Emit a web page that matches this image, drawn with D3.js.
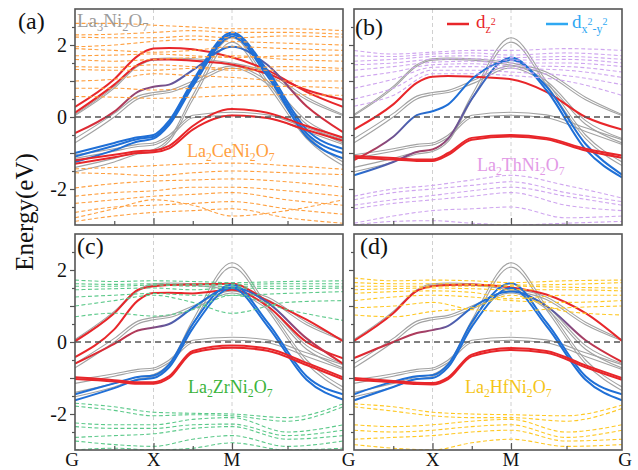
<!DOCTYPE html>
<html lang="en">
<head>
<meta charset="UTF-8">
<title>Band structures</title>
<script src="https://d3js.org/d3.v7.min.js"></script>
<style>
  html, body { margin: 0; padding: 0; background: #fff; }
  svg text { font-family: "Liberation Serif", "Times New Roman", Times, "DejaVu Serif", serif !important; }
</style>
</head>
<body>
<script>
const width = 638, height = 470;
const serif = "'Liberation Serif', 'Times New Roman', Times, 'DejaVu Serif', serif";

// k-path G-X-M-G, |GX| = |XM| = 1, |MG| = sqrt(2)
const kPts = [0, 0.5, 0.8, 1, 1.2, 1.5, 2, 2.45, 2.95, 3.414];
const kDash = [0, 0.5, 1, 1.5, 2, 2.7, 3.414];
const kSym = [0, 1, 2, 3.414];
const kLabels = ["G", "X", "M", "G"];
const kMinor = [0.5, 1.5, 2.707];
const yTicks = [-2, 0, 2];

// La3Ni2O7 reference bands (grey, same in every panel)
const greyBands = [
  [0.07, 0.85, 1.45, 1.62, 1.64, 1.62, 1.5, 1.25, 0.55, 0.07],
  [0.04, 0.8, 1.41, 1.58, 1.6, 1.58, 1.44, 1.18, 0.48, 0.04],
  [-0.6, 0.1, 0.58, 0.68, 0.74, 1.0, 1.42, 1.0, -0.1, -0.6],
  [-0.72, 0.0, 0.5, 0.62, 0.68, 0.92, 1.36, 0.92, -0.2, -0.72],
  [-1.05, -0.88, -0.76, -0.72, -0.5, 0.05, 0.13, 0.06, -0.3, -0.63],
  [-1.15, -0.95, -0.82, -0.78, -0.57, -0.02, 0.05, -0.02, -0.4, -0.76],
  [-1.4, -1.15, -0.97, -0.9, -0.6, 0.6, 2.2, 1.0, -0.5, -1.25],
  [-1.52, -1.25, -1.03, -0.96, -0.68, 0.48, 2.08, 0.9, -0.6, -1.35]
];

// La2CeNi2O7
const ceBands = [
  [0.28, 1.05, 1.7, 1.9, 1.92, 1.88, 1.66, 1.3, 0.7, 0.28],
  [0.12, 0.9, 1.45, 1.6, 1.6, 1.56, 1.46, 1.2, 0.75, 0.48],
  [-0.45, 0.15, 0.7, 0.84, 0.9, 1.3, 1.95, 1.45, 0.3, -0.42],
  [-1.0, -0.72, -0.56, -0.5, -0.1, 1.0, 2.35, 1.3, -0.35, -0.88],
  [-1.1, -0.8, -0.61, -0.55, -0.16, 0.93, 2.29, 1.22, -0.45, -1.0],
  [-1.25, -0.92, -0.68, -0.6, -0.22, 0.85, 2.23, 1.14, -0.55, -1.15],
  [-1.2, -1.05, -0.95, -0.93, -0.8, -0.25, 0.22, 0.12, -0.25, -0.57],
  [-1.3, -1.12, -1.0, -0.98, -0.87, -0.35, 0.04, -0.03, -0.36, -0.66]
];
// dz2 weight (1 = dz2, 0 = dx2-y2)
const ceWeights = [1, 1, [1, 0.8, 0.55, 0.5, 0.4, 0.2, 0, 0.3, 0.8, 1], 0, 0, 0, 1, 1];

// La2ThNi2O7
const thBands = [
  [-0.35, 0.35, 0.95, 1.12, 1.14, 1.12, 1.05, 0.7, 0.0, -0.35],
  [-1.2, -0.55, 0.05, 0.16, 0.35, 1.05, 1.58, 0.85, -0.75, -1.6],
  [-1.62, -1.25, -0.97, -0.9, -0.6, 0.5, 1.65, 0.75, -0.9, -1.68],
  [-1.08, -1.14, -1.18, -1.18, -1.0, -0.58, -0.5, -0.58, -0.88, -1.07],
  [-1.13, -1.18, -1.22, -1.22, -1.05, -0.63, -0.54, -0.62, -0.93, -1.13]
];
const thWeights = [1, [1, 0.4, 0.1, 0, 0, 0, 0, 0, 0, 0], [0, 0.3, 0.6, 0.7, 0.5, 0.2, 0, 0, 0, 0], 1, 1];

// La2ZrNi2O7
const zrBands = [
  [0.02, 0.8, 1.45, 1.55, 1.58, 1.6, 1.62, 1.15, 0.62, 0.02],
  [-0.42, 0.35, 1.15, 1.36, 1.37, 1.35, 1.45, 1.0, 0.0, -0.45],
  [-0.6, -0.05, 0.32, 0.4, 0.5, 0.95, 1.52, 1.1, 0.1, -0.6],
  [-1.45, -1.15, -0.97, -0.93, -0.62, 0.5, 1.6, 0.55, -0.95, -1.45],
  [-1.62, -1.28, -1.05, -1.0, -0.7, 0.38, 1.5, 0.45, -1.05, -1.6],
  [-0.98, -1.06, -1.12, -1.12, -0.95, -0.25, -0.1, -0.18, -0.58, -0.98],
  [-1.03, -1.1, -1.16, -1.16, -1.0, -0.3, -0.16, -0.24, -0.64, -1.04]
];
const zrWeights = [1, 1, [1, 0.9, 0.7, 0.5, 0.3, 0, 0, 0.2, 0.7, 1], 0, 0, 1, 1];

// La2HfNi2O7
const hfBands = [
  [0.03, 0.8, 1.42, 1.55, 1.58, 1.6, 1.52, 1.32, 0.8, 0.03],
  [-0.45, 0.0, 0.25, 0.33, 0.45, 0.95, 1.4, 1.0, 0.05, -0.55],
  [-1.45, -1.1, -0.95, -0.92, -0.62, 0.55, 1.63, 0.55, -0.95, -1.45],
  [-1.62, -1.25, -1.03, -1.0, -0.7, 0.42, 1.5, 0.45, -1.05, -1.62],
  [-1.0, -1.08, -1.13, -1.14, -0.98, -0.35, -0.17, -0.25, -0.65, -1.0],
  [-1.05, -1.12, -1.17, -1.18, -1.03, -0.4, -0.22, -0.3, -0.7, -1.05]
];
const hfWeights = [1, [1, 0.8, 0.7, 0.6, 0.3, 0, 0, 0.2, 0.7, 1], 0, 0, 1, 1];

// A-site derived bands (dashed), sampled on kDash
const ceDash = [
  [2.6, 2.6, 2.55, 2.5, 2.45, 2.45, 2.4],
  [2.28, 2.3, 2.35, 2.4, 2.35, 2.35, 2.3],
  [2.22, 2.2, 2.2, 2.25, 2.2, 2.25, 2.22],
  [1.95, 2.0, 2.1, 2.15, 2.1, 2.05, 2.0],
  [1.9, 1.85, 1.8, 1.85, 1.95, 1.9, 1.85],
  [1.7, 1.72, 1.75, 1.7, 1.65, 1.7, 1.72],
  [1.6, 1.55, 1.6, 1.65, 1.7, 1.6, 1.55],
  [1.4, 1.38, 1.45, 1.4, 1.35, 1.4, 1.35],
  [1.32, 1.3, 1.3, 1.35, 1.3, 1.3, 1.3],
  [1.0, 1.05, 1.2, 1.15, 1.1, 1.0, 1.0],
  [0.8, 0.8, 0.75, 0.8, 0.85, 0.85, 0.8],
  [0.57, 0.55, 0.52, 0.55, 0.6, 0.62, 0.6],
  [-1.44, -1.4, -1.35, -1.3, -1.28, -1.35, -1.45],
  [-1.55, -1.58, -1.63, -1.55, -1.5, -1.55, -1.6],
  [-1.97, -1.85, -1.78, -1.75, -1.72, -1.8, -1.95],
  [-2.2, -2.1, -2.05, -1.95, -1.95, -2.05, -2.2],
  [-2.4, -2.3, -2.2, -2.15, -2.1, -2.3, -2.45],
  [-2.65, -2.5, -2.45, -2.4, -2.35, -2.55, -2.7],
  [-2.9, -2.75, -2.65, -2.6, -2.55, -2.8, -2.95],
  [-2.8, -2.55, -2.3, -2.45, -2.75, -2.6, -2.3]
];
const thDash = [
  [1.85, 1.75, 1.8, 1.85, 1.85, 1.9, 1.85],
  [1.7, 1.68, 1.75, 1.78, 1.72, 1.78, 1.7],
  [1.55, 1.6, 1.68, 1.7, 1.65, 1.68, 1.6],
  [1.45, 1.5, 1.6, 1.62, 1.58, 1.6, 1.5],
  [1.3, 1.4, 1.52, 1.55, 1.5, 1.5, 1.4],
  [1.1, 1.25, 1.45, 1.48, 1.42, 1.4, 1.25],
  [0.8, 1.05, 1.38, 1.4, 1.35, 1.3, 1.1],
  [0.5, 0.8, 1.3, 1.3, 1.25, 1.15, 0.9],
  [0.3, 0.6, 1.2, 1.2, 1.15, 1.0, 0.6],
  [-2.2, -2.0, -1.9, -1.75, -1.62, -1.9, -2.25],
  [-2.3, -2.1, -2.0, -1.9, -1.8, -2.1, -2.35],
  [-2.45, -2.3, -2.18, -2.05, -1.95, -2.2, -2.45],
  [-2.55, -2.4, -2.3, -2.2, -2.1, -2.45, -2.6],
  [-2.95, -2.75, -2.6, -2.55, -2.5, -2.8, -2.75],
  [-3.0, -2.9, -2.88, -2.95, -3.0, -2.95, -2.9]
];
const zrDash = [
  [1.72, 1.68, 1.7, 1.68, 1.65, 1.68, 1.7],
  [1.62, 1.6, 1.62, 1.6, 1.6, 1.62, 1.62],
  [1.55, 1.55, 1.58, 1.55, 1.55, 1.55, 1.55],
  [1.45, 1.48, 1.5, 1.45, 1.5, 1.48, 1.5],
  [1.25, 1.3, 1.35, 1.3, 1.3, 1.35, 1.4],
  [1.0, 1.15, 1.3, 1.1, 0.8, 1.1, 1.15],
  [0.7, 0.8, 0.72, 0.9, 1.3, 0.9, 0.6],
  [-1.7, -1.8, -1.95, -1.98, -2.0, -2.1, -1.72],
  [-1.78, -1.9, -2.05, -2.02, -2.05, -2.2, -1.8],
  [-2.25, -2.3, -2.3, -2.15, -2.1, -2.5, -2.3],
  [-2.35, -2.4, -2.4, -2.3, -2.28, -2.6, -2.45],
  [-2.65, -2.6, -2.55, -2.4, -2.35, -2.7, -2.6],
  [-2.75, -2.85, -2.9, -2.7, -2.6, -2.9, -2.75],
  [-3.0, -2.95, -3.0, -2.95, -2.8, -3.0, -2.95]
];
const hfDash = [
  [1.78, 1.7, 1.72, 1.7, 1.65, 1.7, 1.72],
  [1.65, 1.62, 1.62, 1.6, 1.58, 1.6, 1.65],
  [1.55, 1.55, 1.55, 1.55, 1.55, 1.52, 1.5],
  [1.45, 1.48, 1.5, 1.48, 1.45, 1.45, 1.42],
  [1.35, 1.4, 1.42, 1.38, 1.2, 1.3, 1.3],
  [1.15, 1.25, 1.3, 1.25, 1.15, 1.1, 1.15],
  [0.95, 1.0, 1.1, 0.9, 0.85, 0.95, 1.0],
  [0.75, 0.7, 0.85, 0.95, 1.3, 0.85, 0.75],
  [-1.72, -1.8, -1.95, -2.0, -2.02, -2.05, -1.75],
  [-1.8, -1.92, -2.05, -2.1, -2.1, -2.2, -1.85],
  [-2.3, -2.35, -2.3, -2.2, -2.15, -2.5, -2.3],
  [-2.45, -2.5, -2.45, -2.35, -2.3, -2.65, -2.45],
  [-2.7, -2.65, -2.6, -2.5, -2.45, -2.75, -2.7],
  [-2.85, -2.95, -3.0, -2.8, -2.7, -2.9, -2.85]
];

const red = "#e8262a", blue = "#1f6fd6";
const mix = d3.interpolateRgb(blue, red);

const pw = 268, ph = 216;
const panels = [
  { tag: "(a)", left: 75, top: 9, bands: ceBands, weights: ceWeights, dash: ceDash, dashColor: "#ffa040", col: 0, row: 0 },
  { tag: "(b)", left: 354, top: 9, bands: thBands, weights: thWeights, dash: thDash, dashColor: "#cfa6ef", col: 1, row: 0 },
  { tag: "(c)", left: 75, top: 234, bands: zrBands, weights: zrWeights, dash: zrDash, dashColor: "#5cc98a", col: 0, row: 1 },
  { tag: "(d)", left: 354, top: 234, bands: hfBands, weights: hfWeights, dash: hfDash, dashColor: "#ffc824", col: 1, row: 1 }
];

const svg = d3.select("body").append("svg")
  .attr("width", width)
  .attr("height", height)
  .attr("font-family", serif);
const defs = svg.append("defs");

const x = d3.scaleLinear().domain([0, 3.414]).range([0, pw]);
const y = d3.scaleLinear().domain([-3, 3]).range([ph, 0]);

const line = d3.line()
  .x((d, i) => x(kPts[i]))
  .y((d) => y(d))
  .curve(d3.curveMonotoneX);
const dashLine = d3.line()
  .x((d, i) => x(kDash[i]))
  .y((d) => y(d))
  .curve(d3.curveMonotoneX);

panels.forEach((p, pi) => {
  const g = svg.append("g").attr("transform", `translate(${p.left},${p.top})`);
  defs.append("clipPath").attr("id", "clip" + pi)
    .append("rect").attr("width", pw).attr("height", ph);
  const plot = g.append("g").attr("clip-path", `url(#clip${pi})`);

  // high-symmetry guides
  plot.selectAll(".guide").data(kSym.slice(1, 3)).join("line")
    .attr("x1", (d) => x(d)).attr("x2", (d) => x(d))
    .attr("y1", 0).attr("y2", ph)
    .attr("stroke", "#c4c4c4").attr("stroke-width", 0.8)
    .attr("stroke-dasharray", "4,3");

  // La3Ni2O7
  plot.selectAll(".grey").data(greyBands).join("path")
    .attr("d", line)
    .attr("fill", "none")
    .attr("stroke", "#a2a2a2")
    .attr("stroke-width", 1.1);

  // Ni-eg fat bands
  p.bands.forEach((b, bi) => {
    const wt = p.weights[bi];
    const w = Array.isArray(wt) ? wt : kPts.map(() => wt);
    const id = `grad${pi}_${bi}`;
    const grad = defs.append("linearGradient").attr("id", id)
      .attr("gradientUnits", "userSpaceOnUse")
      .attr("x1", 0).attr("x2", pw).attr("y1", 0).attr("y2", 0);
    kPts.forEach((k, j) => {
      grad.append("stop").attr("offset", k / 3.414).attr("stop-color", mix(w[j]));
    });
    plot.append("path")
      .attr("d", line(b))
      .attr("fill", "none")
      .attr("stroke", `url(#${id})`)
      .attr("stroke-width", 2);
  });

  // A-site bands
  plot.selectAll(".dash").data(p.dash).join("path")
    .attr("d", dashLine)
    .attr("fill", "none")
    .attr("stroke", p.dashColor)
    .attr("stroke-width", 1.1)
    .attr("stroke-dasharray", "4,2.5");

  // Fermi level
  plot.append("line")
    .attr("x1", 0).attr("x2", pw)
    .attr("y1", y(0)).attr("y2", y(0))
    .attr("stroke", "#555").attr("stroke-width", 1.5)
    .attr("stroke-dasharray", "6,4");

  // axes
  const yMajor = d3.axisLeft(y).tickValues(d3.range(-2, 2.1, 1)).tickSize(5).tickPadding(3)
    .tickFormat((d) => (p.col === 0 && yTicks.includes(d)) ? String(d) : "");
  const yMinor = d3.axisLeft(y).tickValues(d3.range(-2.5, 2.6, 1)).tickSize(3).tickFormat("");
  const ya = g.append("g").call(yMajor);
  g.append("g").call(yMinor);
  g.selectAll("g").attr("font-family", null);
  ya.selectAll("text").attr("font-size", 20).attr("fill", "#111");

  const xMajor = d3.axisTop(x).tickValues(kSym.slice(1, 3)).tickSize(7).tickFormat("");
  const xMinor = d3.axisTop(x).tickValues(kMinor).tickSize(4).tickFormat("");
  g.append("g").attr("transform", `translate(0,${ph})`).call(xMajor);
  g.append("g").attr("transform", `translate(0,${ph})`).call(xMinor);
  g.selectAll(".domain").remove();
  g.selectAll(".tick line").attr("stroke", "#555").attr("stroke-width", 1.2);

  g.append("rect")
    .attr("width", pw).attr("height", ph)
    .attr("fill", "none").attr("stroke", "#555").attr("stroke-width", 1.6);

  // k labels under the bottom row (shared G in the middle)
  if (p.row === 1) {
    kLabels.forEach((lab, i) => {
      if (p.col === 1 && i === 0) return;
      let xx = x(kSym[i]);
      if (i === 0) xx -= 3;
      if (i === 3) xx += p.col === 0 ? 5.5 : 3;
      g.append("text").attr("x", xx).attr("y", ph + 16)
        .attr("text-anchor", "middle").attr("font-size", 19).attr("fill", "#111")
        .text(lab);
    });
  }
});

// panel tags
const tagPos = [[18, 29], [355, 35], [77, 254], [360, 254]];
panels.forEach((p, i) => {
  svg.append("text").attr("x", tagPos[i][0]).attr("y", tagPos[i][1])
    .attr("font-size", 24).attr("fill", "#111").text(p.tag);
});

// y-axis title
svg.append("text")
  .attr("transform", "translate(33,212) rotate(-90)")
  .attr("text-anchor", "middle")
  .attr("font-size", 25)
  .attr("fill", "#111")
  .text("Energy(eV)");

// compound formulas with subscripts
function formula(xp, yp, parts, color, size) {
  const t = svg.append("text").attr("x", xp).attr("y", yp)
    .attr("font-size", size).attr("fill", color);
  let sub = false;
  parts.forEach((s) => {
    const isSub = /^[0-9]+$/.test(s);
    const ts = t.append("tspan").text(s);
    if (isSub && !sub) ts.attr("dy", size * 0.22).attr("font-size", size * 0.65);
    else if (isSub) ts.attr("font-size", size * 0.65);
    else if (sub) ts.attr("dy", -size * 0.22);
    sub = isSub;
  });
}
formula(77, 27, ["La", "3", "Ni", "2", "O", "7"], "#9c9c9c", 19);
formula(187, 157, ["La", "2", "CeNi", "2", "O", "7"], "#ffa040", 18);
formula(477, 171, ["La", "2", "ThNi", "2", "O", "7"], "#e29ae6", 18);
formula(188, 393, ["La", "2", "ZrNi", "2", "O", "7"], "#3cb43c", 18);
formula(465, 393, ["La", "2", "HfNi", "2", "O", "7"], "#f5c518", 18);

// legend in (b)
const legendBlue = "#2fa8f2";
svg.append("line").attr("x1", 447).attr("x2", 469).attr("y1", 24).attr("y2", 24)
  .attr("stroke", red).attr("stroke-width", 2.5);
const l1 = svg.append("text").attr("x", 476).attr("y", 28).attr("font-size", 19).attr("fill", red);
l1.append("tspan").text("d");
l1.append("tspan").attr("dy", 5).attr("font-size", 12).text("z");
l1.append("tspan").attr("dy", -8).attr("font-size", 10).text("2");

svg.append("line").attr("x1", 546).attr("x2", 568).attr("y1", 24).attr("y2", 24)
  .attr("stroke", legendBlue).attr("stroke-width", 2.5);
const l2 = svg.append("text").attr("x", 572).attr("y", 28).attr("font-size", 19).attr("fill", legendBlue);
l2.append("tspan").text("d");
l2.append("tspan").attr("dy", 5).attr("font-size", 12).text("x");
l2.append("tspan").attr("dy", -8).attr("font-size", 10).text("2");
l2.append("tspan").attr("dy", 8).attr("font-size", 12).text("-y");
l2.append("tspan").attr("dy", -8).attr("font-size", 10).text("2");
</script>
</body>
</html>
